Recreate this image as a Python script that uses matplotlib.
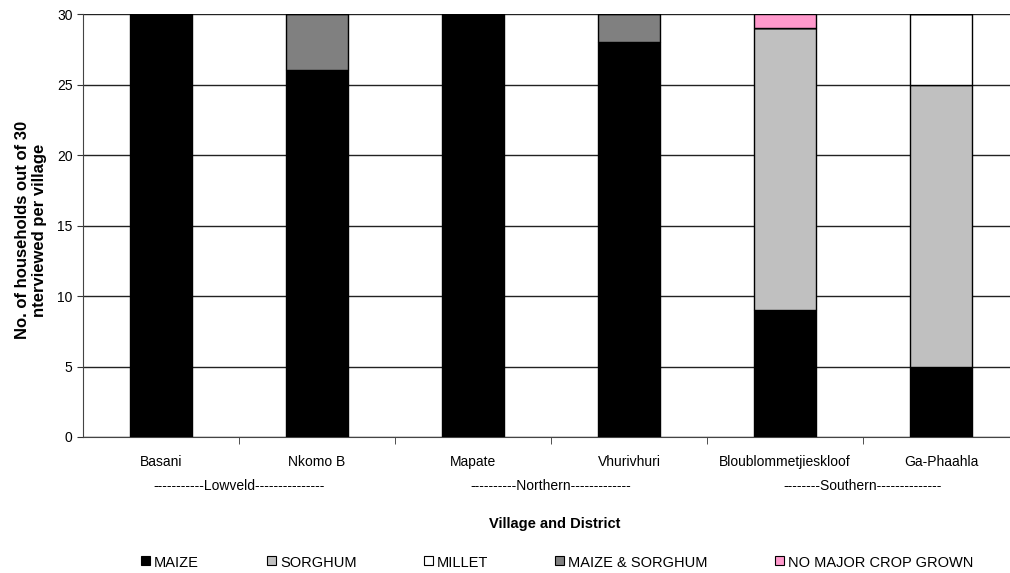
import numpy as np
import matplotlib
matplotlib.use("Agg")
from matplotlib import pyplot as plt
from matplotlib.patches import Rectangle

plt.rcParams['font.family'] = ['Liberation Sans', 'DejaVu Sans']

villages = ["Basani", "Nkomo B", "Mapate", "Vhurivhuri",
            "Bloublommetjieskloof", "Ga-Phaahla"]
districts = ["-----------Lowveld---------------",
             "----------Northern-------------",
             "--------Southern--------------"]

# hogares (de 30) por cultivo principal
maize = [30, 26, 30, 28, 9, 5]
sorghum = [0, 0, 0, 0, 20, 20]
millet = [0, 0, 0, 0, 0, 5]
maize_sorghum = [0, 4, 0, 2, 0, 0]
no_crop = [0, 0, 0, 0, 1, 0]

series = [("MAIZE", maize, "#000000"),
          ("SORGHUM", sorghum, "#C0C0C0"),
          ("MILLET", millet, "#FFFFFF"),
          ("MAIZE & SORGHUM", maize_sorghum, "#808080"),
          ("NO MAJOR CROP GROWN", no_crop, "#FF99CC")]

fig = plt.figure(figsize=(10.1, 5.73), dpi=100)
W, H = 1010, 573
# el eje se sale un poco por la derecha
ax = fig.add_axes([83 / W, 1 - 437 / H, 936 / W, (437 - 14) / H])

x = np.arange(len(villages))
bottom = np.zeros(len(villages))
for nombre, vals, col in series:
    vals = np.array(vals, dtype=float)
    ax.bar(x, vals, width=0.4, bottom=bottom, color=col,
           edgecolor="black", linewidth=1.0, zorder=3)
    bottom += vals

ax.set_xlim(-0.5, len(villages) - 0.5)
ax.set_ylim(0, 30)
ax.set_yticks(range(0, 31, 5))
ax.yaxis.grid(True, color="#222222", linewidth=1.0, zorder=0)
ax.set_axisbelow(True)

ax.set_xticks(x)
ax.set_xticklabels(villages, fontsize=10)
ax.tick_params(axis="x", length=0, pad=13)
ax.set_xticks(np.arange(0.5, len(villages) - 0.5, 1), minor=True)
ax.tick_params(axis="x", which="minor", length=5, color="#333333")
ax.tick_params(axis="y", labelsize=10, length=4, color="#333333")

for s in ["top", "right"]:
    ax.spines[s].set_visible(False)
ax.spines["left"].set_color("#444444")
ax.spines["bottom"].set_color("#444444")

for i, d in enumerate(districts):
    ax.text(2 * i + 0.5, -0.116, d, transform=ax.get_xaxis_transform(),
            ha="center", va="center", fontsize=10)

fig.text(555 / W, 1 - 524 / H, "Village and District", ha="center",
         va="center", fontsize=10.5, fontweight="bold")
fig.text(31 / W, 1 - 230 / H,
         "No. of households out of 30\nnterviewed per village",
         ha="center", va="center", rotation=90, fontsize=12,
         fontweight="bold", linespacing=1.15)

# leyenda a mano, cuadrados pequeños con borde
leg_x = [141, 267, 424, 555, 775]
for (nombre, vals, col), lx in zip(series, leg_x):
    fig.add_artist(Rectangle((lx / W, 1 - 565 / H), 9 / W, 9 / H,
                             facecolor=col, edgecolor="black",
                             linewidth=0.8, transform=fig.transFigure))
    fig.text((lx + 13) / W, 1 - 567 / H, nombre, ha="left",
             va="baseline", fontsize=10.5)

fig.savefig("out.png", dpi=100)
